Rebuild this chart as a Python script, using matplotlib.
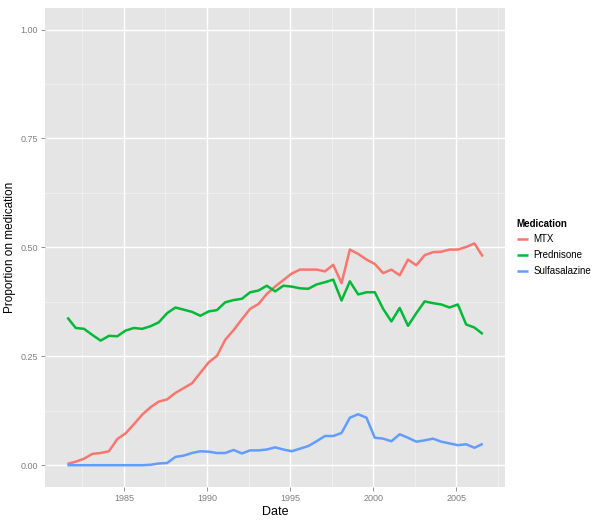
import numpy as np
import matplotlib
matplotlib.use("Agg")
import matplotlib.pyplot as plt
from matplotlib.ticker import MultipleLocator

plt.rcParams['font.family'] = ['Liberation Sans', 'DejaVu Sans']

# half-year dates
dates = np.arange(51) * 0.5 + 1981.6

mtx = [0.003, 0.008, 0.015, 0.026, 0.028, 0.032, 0.060, 0.073, 0.094, 0.116,
       0.133, 0.146, 0.151, 0.166, 0.177, 0.188, 0.212, 0.236, 0.251, 0.288,
       0.310, 0.335, 0.359, 0.370, 0.393, 0.410, 0.425, 0.440, 0.449, 0.449,
       0.449, 0.445, 0.460, 0.418, 0.495, 0.485, 0.472, 0.462, 0.441, 0.449,
       0.436, 0.472, 0.459, 0.482, 0.489, 0.490, 0.495, 0.495, 0.501, 0.509,
       0.479]
prednisone = [0.339, 0.315, 0.313, 0.299, 0.286, 0.297, 0.296, 0.309, 0.315, 0.313,
              0.319, 0.328, 0.349, 0.362, 0.357, 0.352, 0.343, 0.353, 0.356, 0.374,
              0.379, 0.382, 0.397, 0.401, 0.412, 0.399, 0.412, 0.410, 0.406, 0.405,
              0.415, 0.420, 0.426, 0.378, 0.422, 0.392, 0.397, 0.397, 0.359, 0.330,
              0.361, 0.320, 0.349, 0.376, 0.372, 0.369, 0.362, 0.369, 0.323, 0.316,
              0.301]
sulfasalazine = [0.0, 0.0, 0.0, 0.0, 0.0, 0.0, 0.0, 0.0, 0.0, 0.0,
                 0.001, 0.004, 0.005, 0.019, 0.022, 0.028, 0.032, 0.031, 0.028, 0.028,
                 0.035, 0.027, 0.034, 0.034, 0.036, 0.041, 0.036, 0.032, 0.038, 0.044,
                 0.055, 0.067, 0.067, 0.074, 0.109, 0.117, 0.109, 0.063, 0.061, 0.055,
                 0.071, 0.063, 0.054, 0.057, 0.061, 0.054, 0.050, 0.046, 0.048, 0.040,
                 0.049]

series = [("MTX", mtx, "#F8766D"),
          ("Prednisone", prednisone, "#00BA38"),
          ("Sulfasalazine", sulfasalazine, "#619CFF")]

fig = plt.figure(figsize=(6, 5.2), dpi=100)
ax = fig.add_axes([0.075, 0.0635, 0.767, 0.9215])
ax.set_facecolor("#E5E5E5")

for name, vals, col in series:
    ax.plot(dates, vals, color=col, lw=1.8, label=name, solid_capstyle="butt")

ax.set_xlim(1980.25, 2007.95)
ax.set_ylim(-0.05, 1.05)
ax.xaxis.set_major_locator(MultipleLocator(5))
ax.xaxis.set_minor_locator(MultipleLocator(2.5))
ax.set_yticks([0, 0.25, 0.5, 0.75, 1.0])
ax.set_yticks([0.125, 0.375, 0.625, 0.875], minor=True)
ax.set_yticklabels(["0.00", "0.25", "0.50", "0.75", "1.00"])
ax.grid(which="major", color="white", lw=1.0)
ax.grid(which="minor", color="#F2F2F2", lw=0.6)
ax.set_axisbelow(True)
for s in ax.spines.values():
    s.set_visible(False)
ax.tick_params(which="major", length=3, width=0.6, color="#7F7F7F",
               labelcolor="#7F7F7F", labelsize=6.5, pad=2)
ax.tick_params(which="minor", length=0)

ax.set_xlabel("Date", fontsize=9, labelpad=2)
ax.set_ylabel("Proportion on medication", fontsize=8.5, labelpad=3)

leg = ax.legend(title="Medication", loc="center left", bbox_to_anchor=(1.01, 0.5),
                frameon=False, fontsize=7, title_fontsize=7,
                handlelength=1.2, handletextpad=0.5, labelspacing=0.6,
                borderaxespad=0.3)
leg.get_title().set_fontweight("bold")
leg._legend_box.align = "left"

fig.savefig("out.png", dpi=100)
